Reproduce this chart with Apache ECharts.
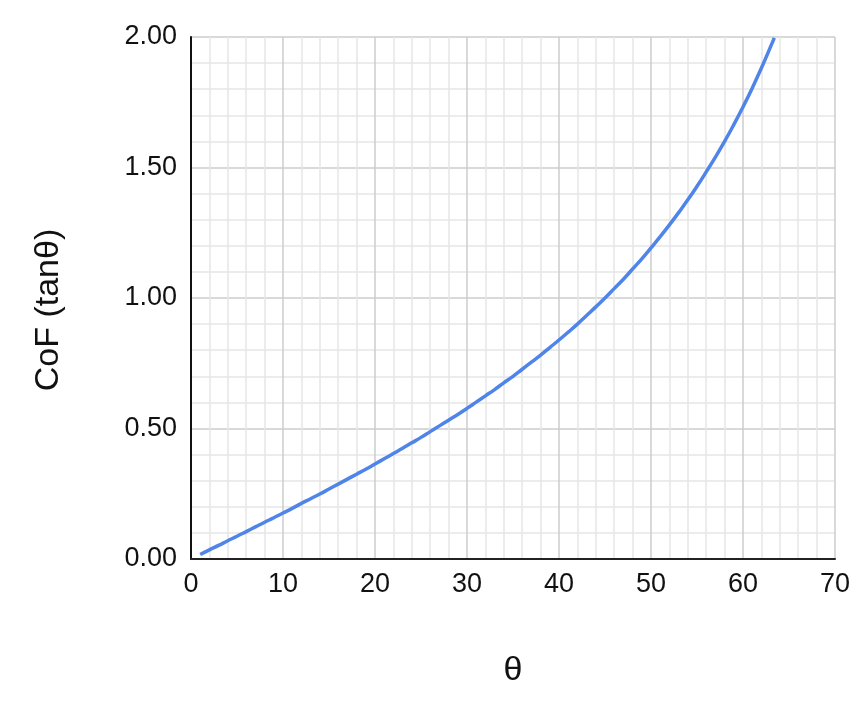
<!DOCTYPE html>
<html><head><meta charset="utf-8">
<script src="https://cdn.jsdelivr.net/npm/echarts@6/dist/echarts.min.js"></script>
<style>html,body{margin:0;padding:0;background:#fff}#c{width:866px;height:710px}</style>
</head><body><div id="c"></div>
<script>
const thetaValues = [1,2,3,4,5,6,7,8,9,10,11,12,13,14,15,16,17,18,19,20,21,22,23,24,25,26,27,28,29,30,31,32,33,34,35,36,37,38,39,40,41,42,43,44,45,46,47,48,49,50,51,52,53,54,55,56,57,58,59,60,61,62,63,63.4];
const cofValues = [0.017,0.035,0.052,0.070,0.087,0.105,0.123,0.141,0.158,0.176,0.194,0.213,0.231,0.249,0.268,0.287,0.306,0.325,0.344,0.364,0.384,0.404,0.424,0.445,0.466,0.488,0.510,0.532,0.554,0.577,0.601,0.625,0.649,0.675,0.700,0.727,0.754,0.781,0.810,0.839,0.869,0.900,0.933,0.966,1.000,1.036,1.072,1.111,1.150,1.192,1.235,1.280,1.327,1.376,1.428,1.483,1.540,1.600,1.664,1.732,1.804,1.881,1.963,1.997];
const xTicks = [0,10,20,30,40,50,60,70];
const yTicks = ['0.00','0.50','1.00','1.50','2.00'];
const xName = 'θ';
const yName = 'CoF (tanθ)';

const chart = echarts.init(document.getElementById('c'), null, {renderer:'canvas'});
const font = 'Liberation Sans, Arial, sans-serif';
chart.setOption({
  animation:false,
  grid:{left:191,right:31,top:37,bottom:151,containLabel:false},
  xAxis:{type:'value',min:0,max:70,interval:10,
    name:xName,nameLocation:'middle',nameGap:95,
    nameTextStyle:{fontSize:34,color:'#111',fontFamily:font},
    axisLine:{show:true,onZero:false,lineStyle:{color:'#222',width:2}},
    axisTick:{show:false},
    axisLabel:{fontSize:27,color:'#111',fontFamily:font,margin:12,
      formatter:v=>xTicks.includes(v)?String(v):''},
    splitLine:{show:true,lineStyle:{color:'#cccccc',width:1.5}},
    minorTick:{show:false,splitNumber:5},
    minorSplitLine:{show:true,lineStyle:{color:'#e6e6e6',width:1.5}}
  },
  yAxis:{type:'value',min:0,max:2,interval:0.5,
    name:yName,nameLocation:'middle',nameGap:125,nameRotate:90,
    nameTextStyle:{fontSize:34,color:'#111',fontFamily:font,padding:[0,24,0,0]},
    axisLine:{show:true,lineStyle:{color:'#111',width:2}},
    axisTick:{show:false},
    axisLabel:{fontSize:27,color:'#111',fontFamily:font,margin:14,
      formatter:v=>yTicks[Math.round(v/0.5)]},
    splitLine:{show:true,lineStyle:{color:'#cccccc',width:1.5}},
    minorTick:{show:false,splitNumber:5},
    minorSplitLine:{show:true,lineStyle:{color:'#e6e6e6',width:1.5}}
  },
  series:[{type:'line',data:thetaValues.map((t,i)=>[t,cofValues[i]]),
    showSymbol:false,smooth:true,lineStyle:{color:'#4f84e8',width:3.5},z:5}]
});
</script></body></html>
